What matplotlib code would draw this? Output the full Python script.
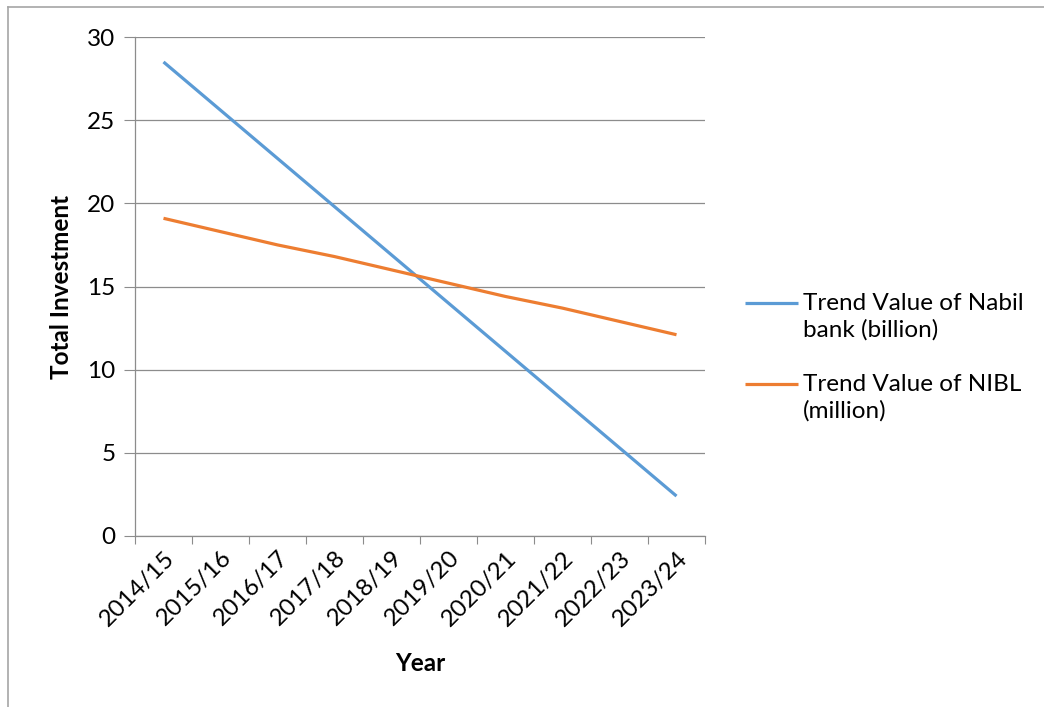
import matplotlib
matplotlib.use('Agg')
import matplotlib.pyplot as plt
from matplotlib.lines import Line2D

plt.rcParams['font.family'] = ['Lato', 'DejaVu Sans']

# ── 数据 ──
years = ['2014/15', '2015/16', '2016/17', '2017/18', '2018/19',
         '2019/20', '2020/21', '2021/22', '2022/23', '2023/24']
nabil = [28.5, 25.6, 22.7, 19.8, 16.9, 14.0, 11.1, 8.2, 5.3, 2.4]
nibl = [19.1, 18.3, 17.5, 16.8, 16.0, 15.2, 14.4, 13.7, 12.9, 12.1]
labels = ['Trend Value of Nabil\nbank (billion)', 'Trend Value of NIBL\n(million)']
colors = ['#5B9BD5', '#ED7D31']

W, H = 1044, 707
FS = 17.5
fig = plt.figure(figsize=(W / 100, H / 100), dpi=100)
ax = fig.add_axes([135 / W, 1 - 536 / H, 570 / W, 499 / H])

x = list(range(len(years)))
ax.plot(x, nabil, color=colors[0], lw=2.3, solid_capstyle='butt')
ax.plot(x, nibl, color=colors[1], lw=2.3, solid_capstyle='butt')

ax.set_xlim(-0.5, len(years) - 0.5)
ax.set_ylim(0, 30)
ax.set_yticks(range(0, 31, 5))
ax.yaxis.grid(True, color='#8C8C8C', lw=0.9)
ax.set_axisbelow(True)

# 类别边界刻度
ax.set_xticks([i - 0.5 for i in range(len(years) + 1)])
ax.set_xticklabels([])
ax.set_xticks(x, minor=True)
ax.set_xticklabels(years, minor=True, rotation=45, ha='right', va='top',
                   rotation_mode='anchor', fontsize=FS)
ax.tick_params(axis='x', which='minor', length=0, pad=8)
ax.tick_params(axis='x', which='major', length=6, color='#8C8C8C', direction='out')
ax.tick_params(axis='y', length=8, color='#8C8C8C', labelsize=FS, pad=6)

for s in ['top', 'right']:
    ax.spines[s].set_visible(False)
for s in ['left', 'bottom']:
    ax.spines[s].set_color('#8C8C8C')
    ax.spines[s].set_linewidth(0.9)

ax.set_ylabel('Total Investment', fontsize=FS, fontweight='bold', labelpad=10)
ax.set_xlabel('Year', fontsize=FS, fontweight='bold', labelpad=16)

# 图例：线段与首行文字对齐
for i, (lab, c) in enumerate(zip(labels, colors)):
    y = 1 - (303 + i * 81) / H
    fig.add_artist(Line2D([745 / W, 798 / W], [y, y], color=c, lw=2.3,
                          solid_capstyle='butt'))
    fig.text(803 / W, y + 10 / H, lab, fontsize=FS, va='top', ha='left',
             linespacing=1.3)

# 外框
fig.add_artist(Line2D([8 / W, 1], [1 - 7 / H, 1 - 7 / H], color='#A6A6A6', lw=1.2))
fig.add_artist(Line2D([8 / W, 8 / W], [1 - 7 / H, 0], color='#A6A6A6', lw=1.2))

fig.savefig('out.png', dpi=100)
